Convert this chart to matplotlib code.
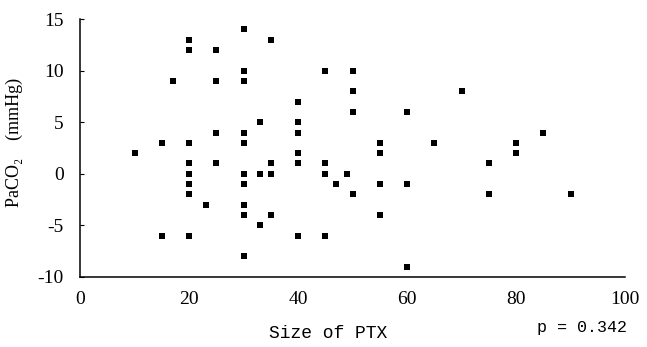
import matplotlib
matplotlib.use("Agg")
import matplotlib.pyplot as plt

plt.rcParams["axes.unicode_minus"] = False

size_ptx = [10, 15, 15, 17,
            20, 20, 20, 20, 20, 20, 20, 20,
            23,
            25, 25, 25, 25,
            30, 30, 30, 30, 30, 30, 30, 30, 30, 30,
            33, 33, 33,
            35, 35, 35, 35,
            40, 40, 40, 40, 40, 40,
            45, 45, 45, 45,
            47, 49,
            50, 50, 50, 50,
            55, 55, 55, 55,
            60, 60, 60,
            65, 70, 75, 75, 80, 80, 85, 90]
paco2 = [2, 3, -6, 9,
         13, 12, 3, 1, 0, -1, -2, -6,
         -3,
         12, 9, 4, 1,
         14, 10, 9, 4, 3, 0, -1, -3, -4, -8,
         5, 0, -5,
         13, 1, 0, -4,
         7, 5, 4, 2, 1, -6,
         10, 1, 0, -6,
         -1, 0,
         10, 8, 6, -2,
         3, 2, -1, -4,
         6, -1, -9,
         3, 8, 1, -2, 3, 2, 4, -2]

x_ticks = [0, 20, 40, 60, 80, 100]
y_ticks = [-10, -5, 0, 5, 10, 15]

fig = plt.figure(figsize=(6.47, 3.47), dpi=100)
ax = fig.add_axes([0.124, 0.202, 0.842, 0.743])
ax.scatter(size_ptx, paco2, marker="s", s=22, color="black", linewidths=0, zorder=3,
           clip_on=False)

ax.set_xlim(0, 100)
ax.set_ylim(-10, 15)
ax.set_xticks(x_ticks)
ax.set_yticks(y_ticks)
ax.spines["top"].set_visible(False)
ax.spines["right"].set_visible(False)
for s in ("left", "bottom"):
    ax.spines[s].set_linewidth(1.1)
    ax.spines[s].set_color("black")

serif = "Liberation Serif"
ax.tick_params(axis="y", direction="in", length=3, pad=12, labelsize=14)
ax.tick_params(axis="x", length=0, pad=10, labelsize=14)
for lab in ax.get_xticklabels() + ax.get_yticklabels():
    lab.set_family(serif)

ax.set_ylabel("PaCO₂    (mmHg)", family=serif, fontsize=13)
ax.yaxis.set_label_coords(-0.105, 0.52)
fig.text(0.507, 0.04, "Size of PTX", family="Liberation Mono", fontsize=13,
         ha="center", va="center")
fig.text(0.90, 0.057, "p = 0.342", family="Liberation Mono", fontsize=12,
         ha="center", va="center")

fig.savefig("out.png", dpi=100, facecolor="white")
